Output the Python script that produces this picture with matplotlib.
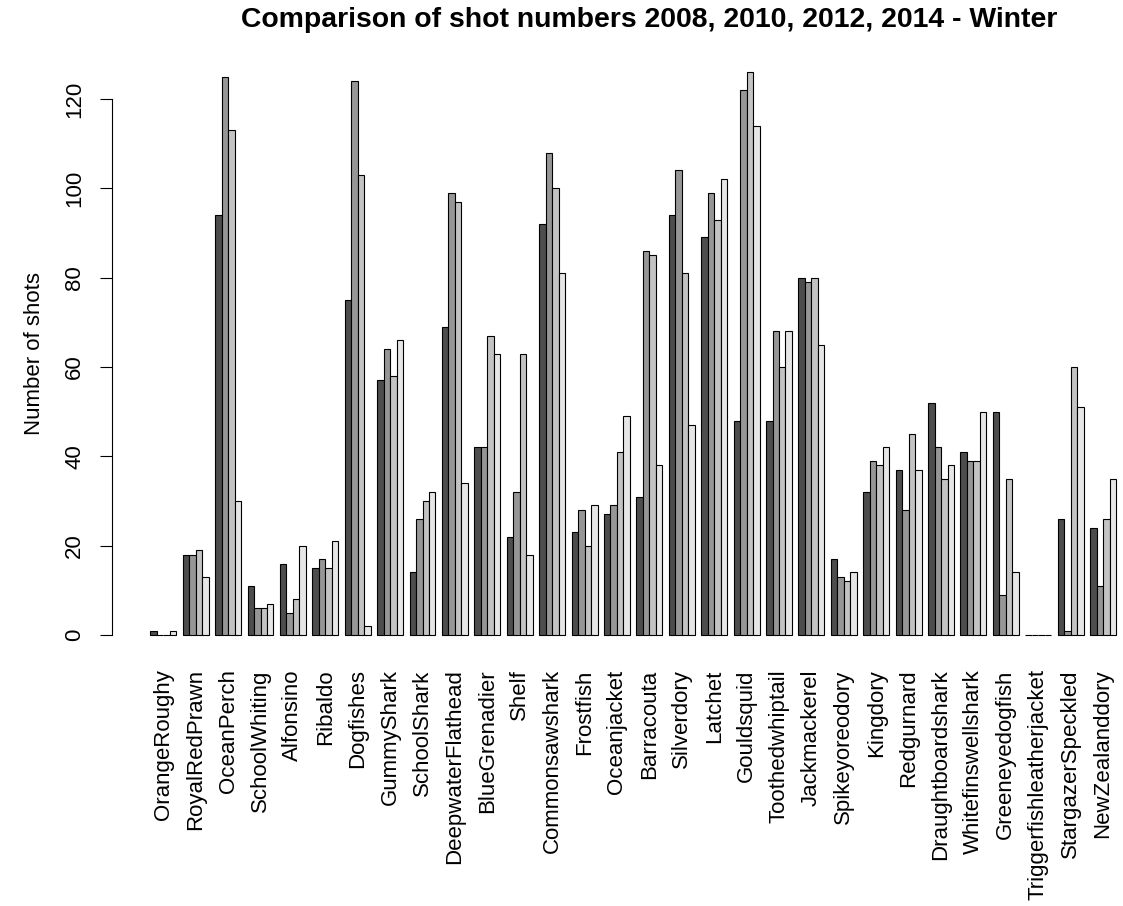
import numpy as np
import matplotlib
matplotlib.use("Agg")
import matplotlib.pyplot as plt

plt.rcParams['font.family'] = ['Liberation Sans', 'DejaVu Sans']

species = ["OrangeRoughy", "RoyalRedPrawn", "OceanPerch", "SchoolWhiting", "Alfonsino",
           "Ribaldo", "Dogfishes", "GummyShark", "SchoolShark", "DeepwaterFlathead",
           "BlueGrenadier", "Shelf", "Commonsawshark", "Frostfish", "Oceanjacket",
           "Barracouta", "Silverdory", "Latchet", "Gouldsquid", "Toothedwhiptail",
           "Jackmackerel", "Spikeyoreodory", "Kingdory", "Redgurnard", "Draughtboardshark",
           "Whitefinswellshark", "Greeneyedogfish", "Triggerfishleatherjacket",
           "StargazerSpeckled", "NewZealanddory"]

shots_2008 = [1, 18, 94, 11, 16, 15, 75, 57, 14, 69, 42, 22, 92, 23, 27,
              31, 94, 89, 48, 48, 80, 17, 32, 37, 52, 41, 50, 0, 26, 24]
shots_2010 = [0, 18, 125, 6, 5, 17, 124, 64, 26, 99, 42, 32, 108, 28, 29,
              86, 104, 99, 122, 68, 79, 13, 39, 28, 42, 39, 9, 0, 1, 11]
shots_2012 = [0, 19, 113, 6, 8, 15, 103, 58, 30, 97, 67, 63, 100, 20, 41,
              85, 81, 93, 126, 60, 80, 12, 38, 45, 35, 39, 35, 0, 60, 26]
shots_2014 = [1, 13, 30, 7, 20, 21, 2, 66, 32, 34, 63, 18, 81, 29, 49,
              38, 47, 102, 114, 68, 65, 14, 42, 37, 38, 50, 14, 0, 51, 35]

years = [shots_2008, shots_2010, shots_2012, shots_2014]
# R gray.colors(4)
colors = ["#4D4D4D", "#969696", "#C3C3C3", "#E6E6E6"]

fig = plt.figure(figsize=(11.23, 9.06), dpi=100)
W, H = 1123.0, 906.0

# layout like R barplot(beside=TRUE, space=c(0,1))
n = len(species)
nb = len(years)
x_lo, x_hi = 1, n * (nb + 1)
xr = x_hi - x_lo
xlim = (x_lo - 0.04 * xr, x_hi + 0.04 * xr)
ymax = max(max(v) for v in years)
ylim = (-0.04 * ymax, ymax * 1.04)

px_left, px_first = 111.7, 150.0
px_unit = (1116.0 - px_first) / xr
px_right = px_first + (xlim[1] - x_lo) * px_unit
px_zero, px_unit_y = 635.0, 536.0 / 120
px_bottom = px_zero - ylim[0] * px_unit_y
px_top = px_zero - ylim[1] * px_unit_y

ax = fig.add_axes([px_left / W, 1 - px_bottom / H,
                   (px_right - px_left) / W, (px_bottom - px_top) / H])

group_start = np.arange(n) * (nb + 1) + 1
for j, vals in enumerate(years):
    ax.bar(group_start + j, vals, width=1, align='edge', color=colors[j],
           edgecolor='black', linewidth=0.8)

ax.set_xlim(*xlim)
ax.set_ylim(*ylim)

for s in ['top', 'right', 'bottom']:
    ax.spines[s].set_visible(False)
ax.spines['left'].set_bounds(0, 120)
ax.spines['left'].set_linewidth(0.8)

ax.set_yticks([0, 20, 40, 60, 80, 100, 120])
ax.tick_params(axis='y', labelsize=16, length=9, width=0.8, pad=10)
for lab in ax.get_yticklabels():
    lab.set_rotation(90)
    lab.set_va('center')

ax.set_xticks(group_start + nb / 2)
ax.set_xticklabels(species, rotation=90, fontsize=16)
ax.tick_params(axis='x', length=0, pad=8.5)

ax.set_ylabel("Number of shots", fontsize=16, labelpad=14)
fig.text(649 / W, 1 - 27 / H,
         "Comparison of shot numbers 2008, 2010, 2012, 2014 - Winter",
         ha='center', va='baseline', fontsize=20.4, fontweight='bold')

fig.savefig("out.png", dpi=100)
